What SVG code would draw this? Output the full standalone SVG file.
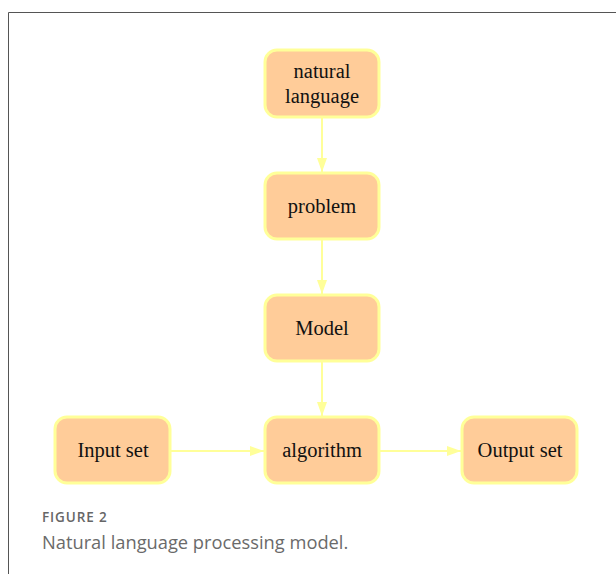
<svg xmlns="http://www.w3.org/2000/svg" width="616" height="574" viewBox="0 0 616 574">
<style>
.node rect{fill:#FFCC99;stroke:#FFFF99;stroke-width:3}
.node text{font-family:"Liberation Serif",serif;font-size:20.5px;fill:#111;text-anchor:middle}
.edge{stroke:#FFFF99;stroke-width:2;fill:none}
.cap1{font-family:"Open Sans",sans-serif;font-size:13.5px;font-weight:600;fill:#666;letter-spacing:0.9px}
.cap2{font-family:"Open Sans",sans-serif;font-size:18.3px;fill:#6a6a6a}
</style>
<defs>
<marker id="ah" markerWidth="14" markerHeight="10" refX="14" refY="5" orient="auto" markerUnits="userSpaceOnUse">
<path d="M0,0 L14,5 L0,10 Z" fill="#FFFF99"/>
</marker>
</defs>
<rect x="0" y="0" width="616" height="574" fill="#fff"/>
<path d="M8.5,574 V12.5 H616" fill="none" stroke="#555" stroke-width="1"/>
<g id="connectors">
<line class="edge" x1="322" y1="117" x2="322" y2="172" marker-end="url(#ah)"/>
<line class="edge" x1="322" y1="239" x2="322" y2="294" marker-end="url(#ah)"/>
<line class="edge" x1="322" y1="361" x2="322" y2="416" marker-end="url(#ah)"/>
<line class="edge" x1="170" y1="451" x2="264" y2="451" marker-end="url(#ah)"/>
<line class="edge" x1="379" y1="451" x2="461" y2="451" marker-end="url(#ah)"/>
</g>
<g id="n-natural" class="node"><rect x="265" y="50" width="114" height="67" rx="12"/><text x="322" y="78">natural</text><text x="322" y="103">language</text></g>
<g id="n-problem" class="node"><rect x="265" y="173" width="114" height="66" rx="12"/><text x="322" y="213">problem</text></g>
<g id="n-model" class="node"><rect x="265" y="295" width="114" height="66" rx="12"/><text x="322" y="335">Model</text></g>
<g id="n-algorithm" class="node"><rect x="265" y="417" width="114" height="66" rx="12"/><text x="322" y="457">algorithm</text></g>
<g id="n-input" class="node"><rect x="55" y="417" width="115" height="66" rx="12"/><text x="113" y="457">Input set</text></g>
<g id="n-output" class="node"><rect x="462" y="417" width="115" height="66" rx="12"/><text x="520" y="457">Output set</text></g>
<text class="cap1" x="42" y="522">FIGURE 2</text>
<text class="cap2" x="42" y="549">Natural language processing model.</text>
</svg>
